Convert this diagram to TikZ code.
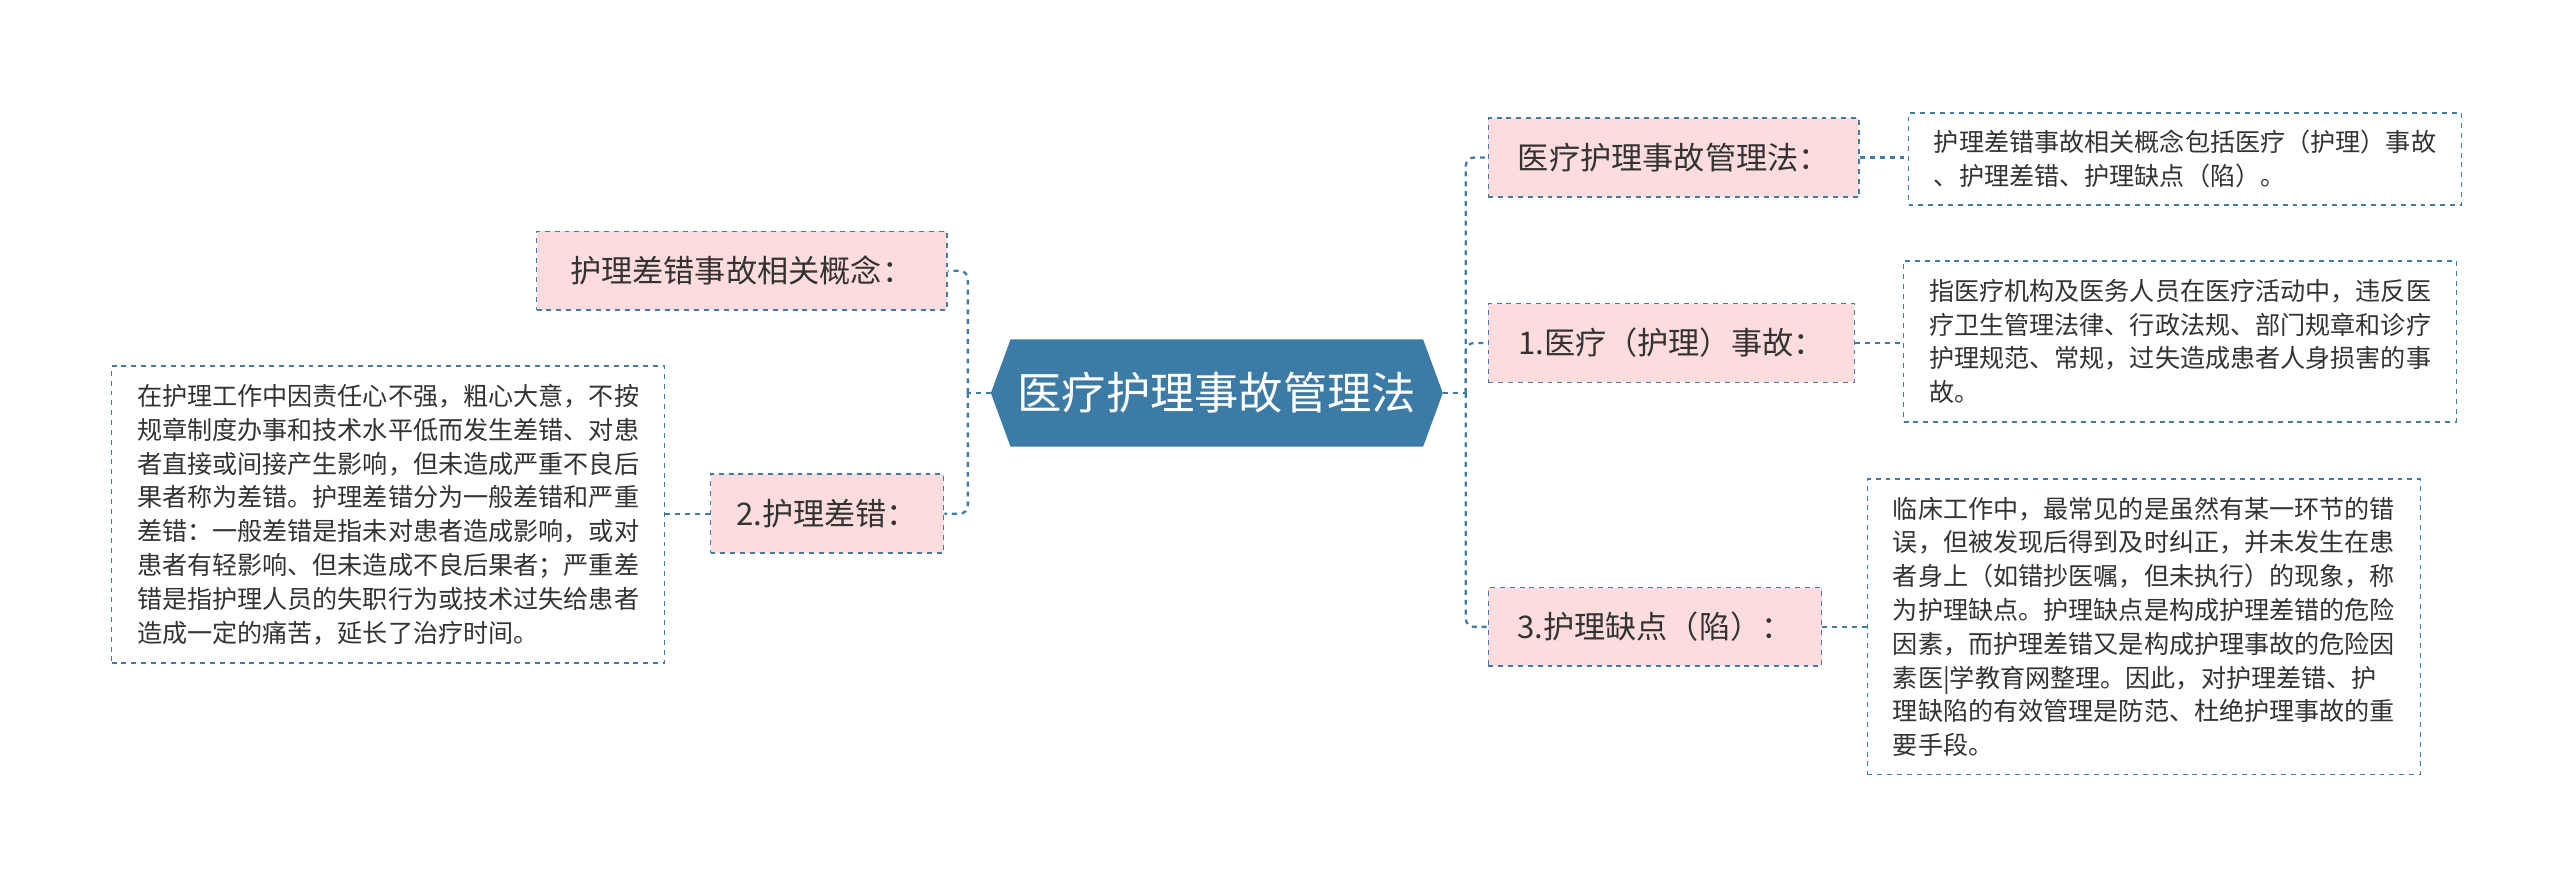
\documentclass[tikz,border=0pt]{standalone}
\usepackage{fontspec}
\setmainfont{Noto Sans CJK SC}
\usetikzlibrary{calc}
\definecolor{lnc}{HTML}{3F7DA6}
\definecolor{pk}{HTML}{FCDCDC}
\definecolor{ctr}{HTML}{3C7BA6}
\definecolor{tx}{HTML}{333333}
\tikzset{
 topic/.style={draw=lnc,dashed,line width=1pt,fill=pk,inner sep=0pt,text=tx,font=\fontsize{19}{24}\selectfont},
 desc/.style={draw=lnc,dashed,line width=1pt,fill=white,inner sep=0pt,text=tx,align=left,font=\fontsize{15.3}{20.6}\selectfont},
 conn/.style={draw=lnc,dashed,line width=1.4pt,rounded corners=5pt}
}
\begin{document}
\begin{tikzpicture}[x=1pt,y=-1pt]
\useasboundingbox[fill=white] (0,0) rectangle (1560,539);
\node[minimum width=275pt,minimum height=65pt,inner sep=0pt] (c) at (741.5,239.5) {};
\fill[ctr] (c.west) -- ($(c.north west)+(12,0)$) -- ($(c.north east)+(-12,0)$) -- (c.east) -- ($(c.south east)+(-12,0)$) -- ($(c.south west)+(12,0)$) -- cycle;
\node[text=white,font=\fontsize{27}{32}\selectfont] at (c) {医疗护理事故管理法};

\node[topic,minimum width=250pt,minimum height=48pt] (n1) at (452,165) {护理差错事故相关概念：};
\node[topic,minimum width=142pt,minimum height=48pt] (n2) at (504,313) {2.护理差错：};
\node[desc,minimum width=337pt,minimum height=181pt] (d2) at (236.5,313.5) {在护理工作中因责任心不强，粗心大意，不按\\规章制度办事和技术水平低而发生差错、对患\\者直接或间接产生影响，但未造成严重不良后\\果者称为差错。护理差错分为一般差错和严重\\差错：一般差错是指未对患者造成影响，或对\\患者有轻影响、但未造成不良后果者；严重差\\错是指护理人员的失职行为或技术过失给患者\\造成一定的痛苦，延长了治疗时间。};

\node[topic,minimum width=226pt,minimum height=48pt] (r1) at (1020,96) {医疗护理事故管理法：};
\node[desc,minimum width=337pt,minimum height=56pt] (e1) at (1331.5,97) {护理差错事故相关概念包括医疗（护理）事故\\、护理差错、护理缺点（陷）。};
\node[topic,minimum width=223pt,minimum height=48pt] (r2) at (1018.5,209) {1.医疗（护理）事故：};
\node[desc,minimum width=337pt,minimum height=98pt] (e2) at (1328.5,208) {指医疗机构及医务人员在医疗活动中，违反医\\疗卫生管理法律、行政法规、部门规章和诊疗\\护理规范、常规，过失造成患者人身损害的事\\故。};
\node[topic,minimum width=203pt,minimum height=48pt] (r3) at (1008.5,382) {3.护理缺点（陷）：};
\node[desc,minimum width=337pt,minimum height=180pt] (e3) at (1306.5,382) {临床工作中，最常见的是虽然有某一环节的错\\误，但被发现后得到及时纠正，并未发生在患\\者身上（如错抄医嘱，但未执行）的现象，称\\为护理缺点。护理缺点是构成护理差错的危险\\因素，而护理差错又是构成护理事故的危险因\\素医|学教育网整理。因此，对护理差错、护\\理缺陷的有效管理是防范、杜绝护理事故的重\\要手段。};

\coordinate (lj) at ($(c.west)+(-14,0)$);
\coordinate (rj) at ($(c.east)+(14,0)$);
\draw[conn] (c.west) -- (lj);
\draw[conn] (lj) |- (n1.east);
\draw[conn] (lj) |- (n2.east);
\draw[conn] (n2.west) -- (d2.east |- n2.west);
\draw[conn] (c.east) -- (rj);
\draw[conn] (rj) |- (r1.west);
\draw[conn] (rj) |- (r2.west);
\draw[conn] (rj) |- (r3.west);
\draw[conn] (r1.east) -- (e1.west |- r1.east);
\draw[conn] (r2.east) -- (e2.west |- r2.east);
\draw[conn] (r3.east) -- (e3.west |- r3.east);
\end{tikzpicture}
\end{document}
